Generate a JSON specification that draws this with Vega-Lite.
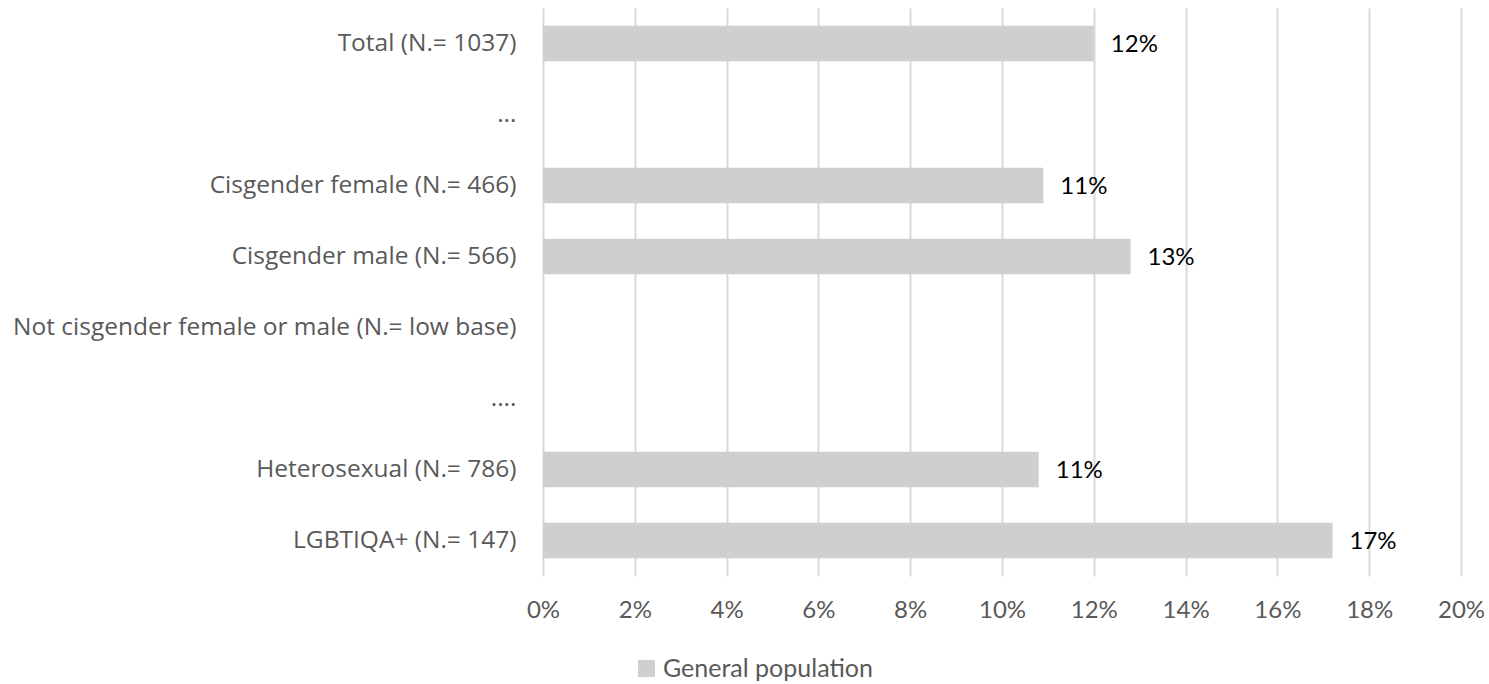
{
  "$schema": "https://vega.github.io/schema/vega-lite/v6.json",
  "autosize": "none",
  "width": 918,
  "height": 568,
  "padding": {"left": 543, "top": 8, "right": 28, "bottom": 108},
  "background": "white",
  "data": {
    "values": [
      {"group": "Total (N.= 1037)", "share": 0.12, "series": "General population"},
      {"group": "...", "share": null, "series": "General population"},
      {"group": "Cisgender female (N.= 466)", "share": 0.109, "series": "General population"},
      {"group": "Cisgender male (N.= 566)", "share": 0.128, "series": "General population"},
      {"group": "Not cisgender female or male (N.= low base)", "share": null, "series": "General population"},
      {"group": "....", "share": null, "series": "General population"},
      {"group": "Heterosexual (N.= 786)", "share": 0.108, "series": "General population"},
      {"group": "LGBTIQA+ (N.= 147)", "share": 0.172, "series": "General population"}
    ]
  },
  "encoding": {
    "y": {
      "field": "group",
      "type": "nominal",
      "sort": null,
      "scale": {
        "domain": ["Total (N.= 1037)", "...", "Cisgender female (N.= 466)", "Cisgender male (N.= 566)", "Not cisgender female or male (N.= low base)", "....", "Heterosexual (N.= 786)", "LGBTIQA+ (N.= 147)"],
        "paddingInner": 0.5,
        "paddingOuter": 0.25
      },
      "axis": {
        "title": null,
        "domain": false,
        "ticks": false,
        "labelPadding": 27,
        "labelFont": "Open Sans",
        "labelFontSize": 24.5,
        "labelColor": "#595959",
        "labelLimit": 600
      }
    },
    "x": {
      "field": "share",
      "type": "quantitative",
      "scale": {"domain": [0, 0.2], "nice": false},
      "axis": {
        "title": null,
        "format": ".0%",
        "values": [0, 0.02, 0.04, 0.06, 0.08, 0.1, 0.12, 0.14, 0.16, 0.18, 0.2],
        "domain": false,
        "ticks": false,
        "grid": true,
        "gridColor": "#D9D9D9",
        "gridWidth": 2,
        "labelFlush": false,
        "labelOverlap": false,
        "labelPadding": 22,
        "labelFont": "Lato",
        "labelFontSize": 24,
        "labelColor": "#595959"
      }
    }
  },
  "layer": [
    {
      "mark": {"type": "bar"},
      "encoding": {
        "color": {
          "field": "series",
          "type": "nominal",
          "scale": {"range": ["#D0CECE"]},
          "legend": {
            "title": null,
            "orient": "none",
            "legendX": 91,
            "legendY": 648,
            "symbolType": "square",
            "symbolSize": 289,
            "symbolStrokeWidth": 0,
            "labelFont": "Lato",
            "labelFontSize": 25,
            "labelColor": "#595959",
            "labelOffset": 4,
            "labelLimit": 400
          }
        }
      }
    },
    {
      "mark": {
        "type": "text",
        "align": "left",
        "baseline": "middle",
        "dx": 17,
        "dy": 1,
        "font": "Lato",
        "fontSize": 24,
        "color": "#000000"
      },
      "encoding": {
        "text": {"field": "share", "type": "quantitative", "format": ".0%"}
      }
    }
  ],
  "config": {"view": {"stroke": null}}
}
